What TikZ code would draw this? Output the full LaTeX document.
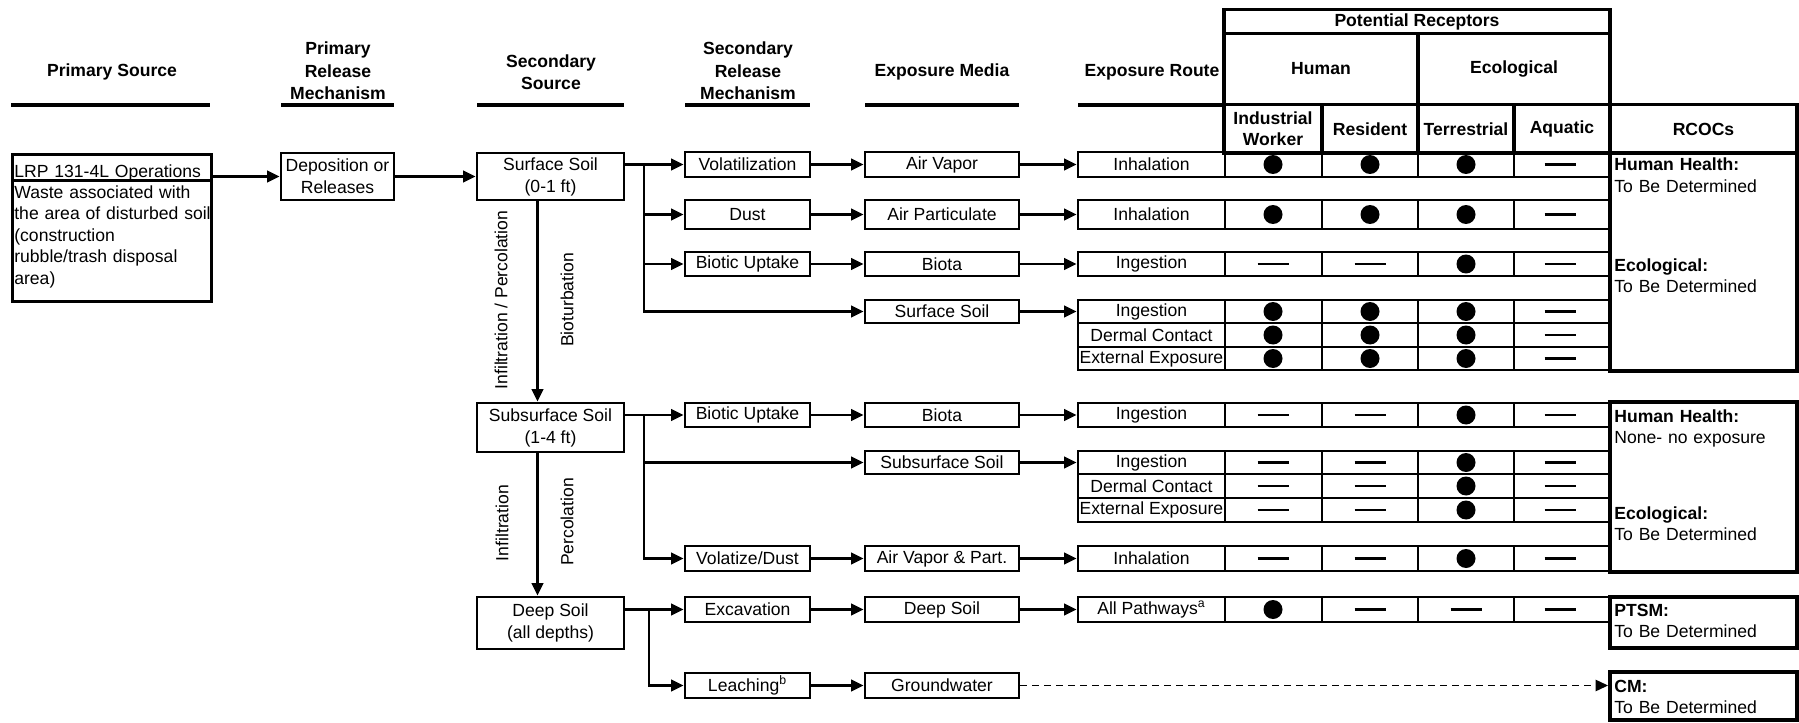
\documentclass[tikz,border=0pt]{standalone}
\usepackage{fontspec}
\setmainfont{Liberation Sans}
\usetikzlibrary{arrows.meta}

\begin{document}
\begin{tikzpicture}[x=0.02cm,y=-0.02cm,
    font=\fontsize{10}{12.5}\selectfont,
    >={Triangle[length=0.25cm,width=0.23cm]},
    box/.style={draw,line width=1.6pt,inner sep=1pt,align=center},
    srm/.style={box,minimum width=2.5cm},
    media/.style={box,minimum width=3.08cm},
    route/.style={box,minimum width=2.94cm},
    soil/.style={box,minimum width=2.94cm},
    hdr/.style={font=\fontsize{10}{12.7}\selectfont\bfseries,align=center},
    hline/.style={line width=2.4pt},
    conn/.style={->,line width=1.3pt},
    cell/.style={line width=1.3pt},
    rhead/.style={draw,line width=1.9pt,inner sep=0pt,align=center,font=\fontsize{10}{12}\selectfont\bfseries},
    rcbox/.style={draw,line width=2.3pt,inner sep=0pt,minimum width=3.74cm},
    note/.style={anchor=base west,inner sep=0pt,text width=3.6cm,align=left},
    nomark/.style={line width=1.2pt}]
\useasboundingbox (0,0) rectangle (1799,723);

% column headings
\node[hdr] (hps) at (112,72) {Primary Source};
\node[hdr] (hprm) at (338,71) {Primary\\Release\\Mechanism};
\node[hdr] (hss) at (551,72) {Secondary\\Source};
\node[hdr] (hsrm) at (748,71) {Secondary\\Release\\Mechanism};
\node[hdr] (hem) at (942,72) {Exposure Media};
\node[hdr] (her) at (1152,72) {Exposure Route};
\draw[hline] (11,105) -- (210,105);
\draw[hline] (281,105) -- (394,105);
\draw[hline] (477,105) -- (624,105);
\draw[hline] (685,105) -- (810,105);
\draw[hline] (865,105) -- (1019,105);
\draw[hline] (1078,105) -- (1225,105);

% receptor headings
\node[rhead,minimum width=7.72cm,minimum height=0.49cm] (potrec) at (1417,21.5) {Potential Receptors};
\node[rhead,minimum width=3.88cm,minimum height=1.42cm] (human) at (1321,69) {Human};
\node[rhead,minimum width=3.84cm,minimum height=1.42cm] (ecol) at (1514,69) {Ecological};
\node[rhead,minimum width=1.96cm,minimum height=0.98cm] (iw) at (1273,129) {Industrial\\Worker};
\node[rhead,minimum width=1.92cm,minimum height=0.98cm] (res) at (1370,129) {Resident};
\node[rhead,minimum width=1.92cm,minimum height=0.98cm] (terr) at (1466,129) {Terrestrial};
\node[rhead,minimum width=1.92cm,minimum height=0.98cm] (aq) at (1562,129) {Aquatic};
\node[rhead,minimum width=3.74cm,minimum height=0.98cm] (rcocs) at (1703.5,129) {RCOCs};

% primary source
\node[box,anchor=north west,minimum width=3.98cm,text height=12pt,text depth=1pt,text width=3.9cm,align=left] (primtop) at (11,153) {LRP 131-4L Operations};
\node[box,anchor=north west,minimum width=3.98cm,minimum height=2.42cm] (primbody) at (11,179) {};
\node[note,text width=3.95cm,font=\fontsize{10}{12.3}\selectfont] (primtxt) at (14,198) {Waste associated with\\the area of disturbed soil\\(construction\\rubble/trash disposal\\area)};
\node[box,minimum width=2.26cm,minimum height=0.94cm] (dep) at (337.5,176.5) {Deposition or\\Releases};

% secondary sources
\node[soil,minimum height=0.94cm] (ss) at (550.5,176.5) {Surface Soil\\(0-1 ft)};
\node[soil,minimum height=0.98cm] (sub) at (550.5,427.5) {Subsurface Soil\\(1-4 ft)};
\node[soil,minimum height=1.04cm] (deep) at (550.5,623) {Deep Soil\\(all depths)};
\node[rotate=90] (lblip) at (501,300) {Infiltration / Percolation};
\node[rotate=90] (lblbio) at (567,300) {Bioturbation};
\node[rotate=90] (lblinf) at (502,523) {Infiltration};
\node[rotate=90] (lblperc) at (567,522) {Percolation};

% secondary release mechanisms
\node[srm,minimum height=0.5cm] (vol) at (747.5,164.5) {Volatilization};
\node[srm,minimum height=0.58cm] (dust) at (747.5,214.5) {Dust};
\node[srm,minimum height=0.48cm] (bio1) at (747.5,264) {Biotic Uptake};
\node[srm,minimum height=0.48cm] (bio2) at (747.5,415) {Biotic Uptake};
\node[srm,minimum height=0.5cm] (vdust) at (747.5,558.5) {Volatize/Dust};
\node[srm,minimum height=0.5cm] (exc) at (747.5,609.5) {Excavation};
\node[srm,minimum height=0.5cm] (leach) at (747.5,685.5) {Leaching\textsuperscript{b}};

% exposure media
\node[media,minimum height=0.5cm] (av) at (942,164.5) {Air Vapor};
\node[media,minimum height=0.58cm] (ap) at (942,214.5) {Air Particulate};
\node[media,minimum height=0.48cm] (biota1) at (942,264) {Biota};
\node[media,minimum height=0.46cm] (ssm) at (942,311.5) {Surface Soil};
\node[media,minimum height=0.48cm] (biota2) at (942,415) {Biota};
\node[media,minimum height=0.46cm] (subm) at (942,462.5) {Subsurface Soil};
\node[media,minimum height=0.5cm] (avp) at (942,558.5) {Air Vapor \& Part.};
\node[media,minimum height=0.5cm] (dsm) at (942,609.5) {Deep Soil};
\node[media,minimum height=0.5cm] (gw) at (942,685.5) {Groundwater};

% exposure routes
\node[route,minimum height=0.5cm] (inh1) at (1151.5,164.5) {Inhalation};
\node[route,minimum height=0.58cm] (inh2) at (1151.5,214.5) {Inhalation};
\node[route,minimum height=0.48cm] (ing1) at (1151.5,264) {Ingestion};
\node[route,minimum height=0.46cm] (ing2) at (1151.5,311.5) {Ingestion};
\node[route,minimum height=0.48cm] (derm1) at (1151.5,335) {Dermal Contact};
\node[route,minimum height=0.46cm] (ext1) at (1151.5,358.5) {External Exposure};
\node[route,minimum height=0.48cm] (ing3) at (1151.5,415) {Ingestion};
\node[route,minimum height=0.46cm] (ing4) at (1151.5,462.5) {Ingestion};
\node[route,minimum height=0.48cm] (derm2) at (1151.5,486) {Dermal Contact};
\node[route,minimum height=0.48cm] (ext2) at (1151.5,510) {External Exposure};
\node[route,minimum height=0.5cm] (inh3) at (1151.5,558.5) {Inhalation};
\node[route,minimum height=0.5cm] (allp) at (1151.5,609.5) {All Pathways\textsuperscript{a}};

% receptor table
\foreach \t/\b in {152/177,200/229,252/276,300/323,323/347,347/370,403/427,451/474,474/498,498/522,546/571,597/622}
  \draw[cell] (1225,\t) rectangle (1610,\b) (1322,\t) -- (1322,\b) (1418,\t) -- (1418,\b) (1514,\t) -- (1514,\b);
\foreach \y in {164.5,214.5,311.5,335,358.5}{
  \fill (1273,\y) circle (0.19cm) (1370,\y) circle (0.19cm) (1466,\y) circle (0.19cm);
  \draw[nomark] (1544.5,\y) -- ++(31,0);
}
\foreach \y in {264,415,462.5,486,510,558.5}{
  \draw[nomark] (1257.5,\y) -- ++(31,0) (1354.5,\y) -- ++(31,0) (1544.5,\y) -- ++(31,0);
  \fill (1466,\y) circle (0.19cm);
}
\fill (1273,609.5) circle (0.19cm);
\draw[nomark] (1354.5,609.5) -- ++(31,0) (1450.5,609.5) -- ++(31,0) (1544.5,609.5) -- ++(31,0);

% RCOCs
\node[rcbox,minimum height=4.36cm] (rc1) at (1703.5,262) {};
\node[rcbox,minimum height=3.4cm] (rc2) at (1703.5,487) {};
\node[rcbox,minimum height=1.02cm] (ptsm) at (1703.5,622.5) {};
\node[rcbox,minimum height=0.96cm] (cmbox) at (1703.5,696) {};
\node[note] (hh1) at (1614,171) {\textbf{Human Health:}\\To Be Determined};
\node[note] (eco1) at (1614,271) {\textbf{Ecological:}\\To Be Determined};
\node[note] (hh2) at (1614,422) {\textbf{Human Health:}\\None- no exposure};
\node[note] (eco2) at (1614,519) {\textbf{Ecological:}\\To Be Determined};
\node[note] (ptsmtxt) at (1614,616) {\textbf{PTSM:}\\To Be Determined};
\node[note] (cmtxt) at (1614,692) {\textbf{CM:}\\To Be Determined};

% connectors
\draw[conn] (dep.west -| primbody.east) -- (dep.west);
\draw[conn] (dep) -- (ss);
\draw[conn] ([xshift=-0.26cm]ss.south) -- ([xshift=-0.26cm]sub.north);
\draw[conn] ([xshift=-0.26cm]sub.south) -- ([xshift=-0.26cm]deep.north);

\coordinate (j1) at (644,164.5);
\draw[conn] (ss.east |- vol.west) -- (vol.west);
\draw[conn] (j1) |- (ssm.west);
\draw[conn] (j1 |- dust.west) -- (dust.west);
\draw[conn] (j1 |- bio1.west) -- (bio1.west);

\coordinate (j2) at (644,415);
\draw[conn] (sub.east |- bio2.west) -- (bio2.west);
\draw[conn] (j2) |- (vdust.west);
\draw[conn] (j2 |- subm.west) -- (subm.west);

\coordinate (j3) at (649,609.5);
\draw[conn] (deep.east |- exc.west) -- (exc.west);
\draw[conn] (j3) |- (leach.west);

\draw[conn] (vol) -- (av);
\draw[conn] (dust) -- (ap);
\draw[conn] (bio1) -- (biota1);
\draw[conn] (bio2) -- (biota2);
\draw[conn] (vdust) -- (avp);
\draw[conn] (exc) -- (dsm);
\draw[conn] (leach) -- (gw);

\draw[conn] (av) -- (inh1);
\draw[conn] (ap) -- (inh2);
\draw[conn] (biota1) -- (ing1);
\draw[conn] (ssm) -- (ing2);
\draw[conn] (biota2) -- (ing3);
\draw[conn] (subm) -- (ing4);
\draw[conn] (avp) -- (inh3);
\draw[conn] (dsm) -- (allp);
\draw[conn,line width=0.8pt,dash pattern=on 0.14cm off 0.1cm] (gw.east) -- (gw.east -| cmbox.west);
\end{tikzpicture}
\end{document}
